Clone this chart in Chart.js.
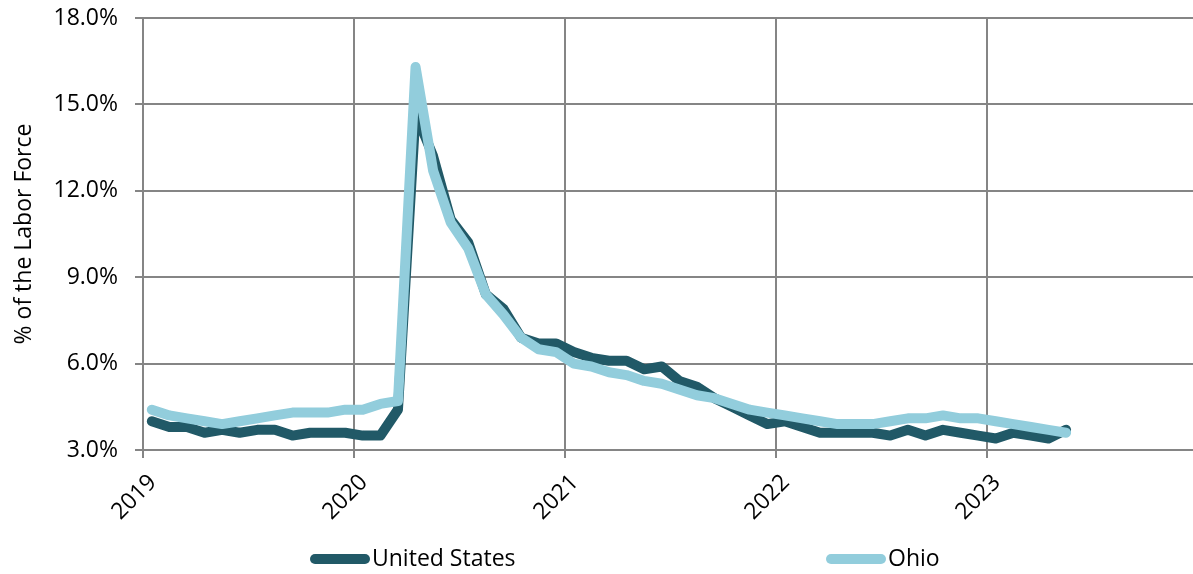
<!DOCTYPE html>
<html>
<head>
<meta charset="utf-8">
<script src="https://cdn.jsdelivr.net/npm/chart.js@4.4.1/dist/chart.umd.min.js"></script>
<style>
  html, body { margin: 0; padding: 0; background: #ffffff; overflow: hidden; }
  #wrap { width: 1198px; height: 574px; }
</style>
</head>
<body>
<div id="wrap"><canvas id="chart" width="1198" height="574"></canvas></div>
<script>
// Monthly unemployment rate, % of the labor force
const months = [
  "2019-01","2019-02","2019-03","2019-04","2019-05","2019-06","2019-07","2019-08","2019-09","2019-10","2019-11","2019-12",
  "2020-01","2020-02","2020-03","2020-04","2020-05","2020-06","2020-07","2020-08","2020-09","2020-10","2020-11","2020-12",
  "2021-01","2021-02","2021-03","2021-04","2021-05","2021-06","2021-07","2021-08","2021-09","2021-10","2021-11","2021-12",
  "2022-01","2022-02","2022-03","2022-04","2022-05","2022-06","2022-07","2022-08","2022-09","2022-10","2022-11","2022-12",
  "2023-01","2023-02","2023-03","2023-04","2023-05"
];

const unitedStates = [
  4.0, 3.8, 3.8, 3.6, 3.7, 3.6, 3.7, 3.7, 3.5, 3.6, 3.6, 3.6,
  3.5, 3.5, 4.4, 14.7, 13.2, 11.0, 10.2, 8.4, 7.9, 6.9, 6.7, 6.7,
  6.4, 6.2, 6.1, 6.1, 5.8, 5.9, 5.4, 5.2, 4.8, 4.5, 4.2, 3.9,
  4.0, 3.8, 3.6, 3.6, 3.6, 3.6, 3.5, 3.7, 3.5, 3.7, 3.6, 3.5,
  3.4, 3.6, 3.5, 3.4, 3.7
];

const ohio = [
  4.4, 4.2, 4.1, 4.0, 3.9, 4.0, 4.1, 4.2, 4.3, 4.3, 4.3, 4.4,
  4.4, 4.6, 4.7, 16.3, 12.7, 10.9, 10.0, 8.4, 7.7, 6.9, 6.5, 6.4,
  6.0, 5.9, 5.7, 5.6, 5.4, 5.3, 5.1, 4.9, 4.8, 4.6, 4.4, 4.3,
  4.2, 4.1, 4.0, 3.9, 3.9, 3.9, 4.0, 4.1, 4.1, 4.2, 4.1, 4.1,
  4.0, 3.9, 3.8, 3.7, 3.6
];

const yearLabels = [2019, 2020, 2021, 2022, 2023];
const yearGrid = [2019, 2020, 2021, 2022, 2023, 2024];
const yTickValues = [3, 6, 9, 12, 15, 18];

const seriesNames = ["United States", "Ohio"];
const seriesColors = ["#215967", "#92CDDC"];

// Each monthly value sits in the middle of its month on a year axis
function monthPosition(label) {
  const parts = label.split("-").map(Number);
  return parts[0] + (parts[1] - 0.5) / 12;
}

function toPoints(values) {
  return values.map((v, i) => ({ x: monthPosition(months[i]), y: v }));
}

const gridColor = "#858585";
const textColor = "#000000";
const fontFamily = "'Open Sans', Lato, sans-serif";
const fontSize = 23;

Chart.defaults.font.family = fontFamily;
Chart.defaults.font.size = fontSize;
Chart.defaults.color = textColor;

// Legend laid out as a single spread row under the axis labels
const spreadLegend = {
  id: "spreadLegend",
  afterDraw(chart, args, opts) {
    const ctx = chart.ctx;
    ctx.save();
    ctx.font = fontSize + "px " + fontFamily;
    ctx.textBaseline = "middle";
    ctx.textAlign = "left";
    chart.data.datasets.forEach((ds, i) => {
      const x = opts.starts[i];
      const y = opts.y;
      ctx.strokeStyle = ds.borderColor;
      ctx.lineWidth = 10;
      ctx.lineCap = "round";
      ctx.beginPath();
      ctx.moveTo(x + 5, y);
      ctx.lineTo(x + opts.sample - 5, y);
      ctx.stroke();
      ctx.fillStyle = textColor;
      ctx.fillText(ds.label, x + opts.sample + 2, y);
    });
    ctx.restore();
  }
};

function lineDataset(i, values, order) {
  return {
    label: seriesNames[i],
    data: toPoints(values),
    borderColor: seriesColors[i],
    backgroundColor: seriesColors[i],
    borderWidth: 10,
    pointRadius: 0,
    borderJoinStyle: "round",
    borderCapStyle: "round",
    tension: 0,
    order: order
  };
}

new Chart(document.getElementById("chart"), {
  type: "line",
  data: {
    datasets: [
      lineDataset(0, unitedStates, 1),
      lineDataset(1, ohio, 0)
    ]
  },
  options: {
    responsive: false,
    animation: false,
    layout: { padding: { top: 18, left: 0, right: 0, bottom: 0 } },
    plugins: {
      legend: { display: false },
      tooltip: { enabled: false },
      spreadLegend: { y: 559, starts: [310, 826], sample: 60 }
    },
    scales: {
      x: {
        type: "linear",
        min: 2019,
        max: 2024,
        afterFit(scale) {
          scale.height = 124;
          scale.paddingLeft = 0;
          scale.paddingRight = 0;
        },
        afterBuildTicks(scale) {
          scale.ticks = yearGrid.map(v => ({ value: v }));
        },
        ticks: {
          autoSkip: false,
          minRotation: 45,
          maxRotation: 45,
          padding: 11,
          labelOffset: 10,
          color: textColor,
          callback: (v) => yearLabels.includes(v) ? String(v) : ""
        },
        grid: { color: gridColor, lineWidth: 2, tickLength: 8, drawTicks: true },
        border: { color: gridColor, width: 2 }
      },
      y: {
        min: 3,
        max: 18,
        afterFit(scale) {
          scale.width = 143;
          scale.paddingTop = 0;
          scale.paddingBottom = 0;
        },
        afterBuildTicks(scale) {
          scale.ticks = yTickValues.map(v => ({ value: v }));
        },
        ticks: {
          padding: 17,
          color: textColor,
          callback: (v) => v.toFixed(1) + "%"
        },
        title: {
          display: true,
          text: "% of the Labor Force",
          color: textColor,
          padding: { top: 11, bottom: 0 }
        },
        grid: { color: gridColor, lineWidth: 2, tickLength: 8 },
        border: { color: gridColor, width: 2 }
      }
    }
  },
  plugins: [spreadLegend]
});
</script>
</body>
</html>
